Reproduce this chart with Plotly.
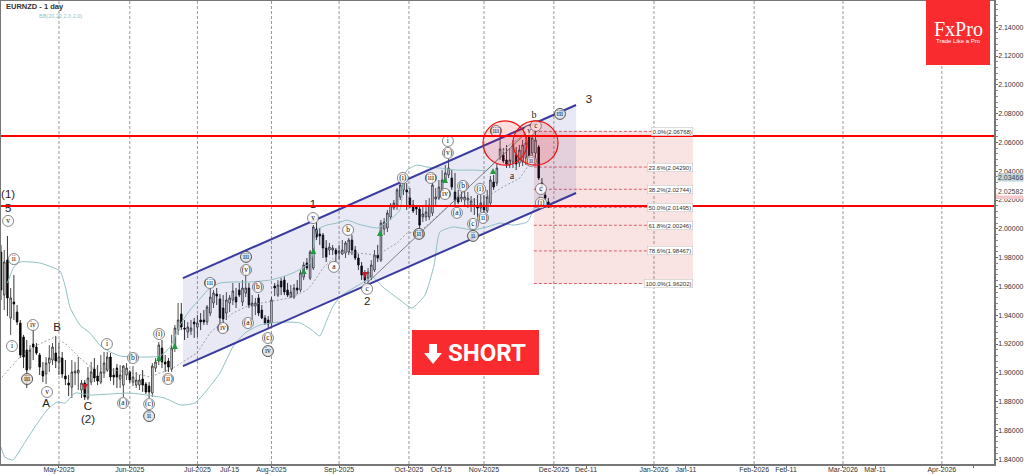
import plotly.graph_objects as go

opens = [1.9839,1.9540,1.9783,1.9381,1.9492,1.9422,1.9346,1.9249,1.9158,1.9033,
1.9200,1.9179,1.9124,1.9012,1.8992,1.9068,1.9089,1.9138,1.9075,1.9103,
1.8978,1.8929,1.8901,1.8999,1.8999,1.8881,1.8929,1.8825,1.8936,1.9026,
1.8978,1.8936,1.8999,1.9019,1.9110,1.8985,1.9033,1.8957,1.8915,1.8985,
1.9006,1.8936,1.8915,1.8915,1.8957,1.8922,1.8908,1.8860,1.9033,1.9082,
1.9172,1.9075,1.9082,1.9026,1.9179,1.9297,1.9408,1.9311,1.9283,1.9290,
1.9353,1.9318,1.9367,1.9367,1.9353,1.9415,1.9485,1.9547,1.9513,1.9450,
1.9415,1.9485,1.9506,1.9526,1.9575,1.9492,1.9554,1.9589,1.9464,1.9464,
1.9520,1.9436,1.9381,1.9367,1.9346,1.9603,1.9540,1.9637,1.9644,1.9575,
1.9526,1.9526,1.9589,1.9575,1.9665,1.9763,1.9658,1.9728,1.9999,1.9964,
1.9957,1.9867,1.9853,1.9853,1.9853,1.9832,1.9825,1.9832,1.9839,1.9922,
1.9853,1.9797,1.9742,1.9679,1.9658,1.9665,1.9714,1.9818,1.9783,1.9999,
2.0006,2.0082,2.0145,2.0165,2.0221,2.0270,2.0270,2.0214,2.0165,2.0151,
2.0138,2.0082,2.0082,2.0082,2.0110,2.0207,2.0214,2.0270,2.0339,2.0374,
2.0353,2.0256,2.0221,2.0207,2.0200,2.0200,2.0165,2.0165,2.0151,2.0145,
2.0165,2.0124,2.0179,2.0325,2.0318,2.0499,2.0513,2.0478,2.0443,2.0464,
2.0513,2.0457,2.0464,2.0492,2.0665,2.0526,2.0526,2.0568,2.0318,2.0235,2.0186]
highs = [1.9888,1.9853,1.9950,1.9589,1.9679,1.9471,1.9367,1.9263,1.9228,1.9193,
1.9332,1.9207,1.9138,1.9075,1.9110,1.9193,1.9207,1.9256,1.9207,1.9145,
1.9089,1.8985,1.9089,1.9075,1.9110,1.8950,1.8950,1.9040,1.9075,1.9103,
1.9054,1.9124,1.9145,1.9145,1.9138,1.9033,1.9061,1.9054,1.9054,1.9068,
1.9019,1.9047,1.9006,1.8985,1.9019,1.8936,1.8936,1.9068,1.9103,1.9214,
1.9228,1.9124,1.9103,1.9263,1.9332,1.9485,1.9485,1.9367,1.9353,1.9367,
1.9381,1.9401,1.9415,1.9436,1.9471,1.9589,1.9575,1.9589,1.9547,1.9540,
1.9561,1.9540,1.9624,1.9589,1.9624,1.9644,1.9714,1.9624,1.9540,1.9520,
1.9547,1.9471,1.9401,1.9394,1.9526,1.9624,1.9644,1.9658,1.9672,1.9624,
1.9610,1.9617,1.9644,1.9714,1.9770,1.9797,1.9853,2.0026,2.0047,2.0006,
1.9971,1.9922,1.9902,1.9888,1.9867,1.9888,1.9922,1.9915,1.9936,1.9957,
1.9881,1.9825,1.9770,1.9714,1.9728,1.9783,1.9853,1.9888,2.0061,2.0075,
2.0131,2.0179,2.0200,2.0283,2.0374,2.0353,2.0318,2.0283,2.0200,2.0165,
2.0165,2.0151,2.0200,2.0214,2.0388,2.0283,2.0339,2.0408,2.0443,2.0485,
2.0408,2.0388,2.0270,2.0256,2.0270,2.0256,2.0228,2.0214,2.0235,2.0235,
2.0235,2.0270,2.0367,2.0374,2.0457,2.0686,2.0561,2.0582,2.0561,2.0617,
2.0568,2.0582,2.0617,2.0686,2.0707,2.0721,2.0686,2.0582,2.0353,2.0270,2.0214]
lows = [1.9506,1.9436,1.9394,1.9263,1.9367,1.9332,1.9103,1.9033,1.8895,1.9019,
1.9089,1.9124,1.8985,1.8936,1.8922,1.9006,1.9054,1.9033,1.8985,1.8964,
1.8915,1.8839,1.8825,1.8915,1.8881,1.8825,1.8811,1.8811,1.8915,1.8936,
1.8915,1.8922,1.8964,1.9006,1.8943,1.8915,1.8895,1.8895,1.8832,1.8950,
1.8929,1.8908,1.8895,1.8881,1.8867,1.8853,1.8825,1.8832,1.9006,1.9054,
1.9033,1.9006,1.9006,1.9006,1.9145,1.9263,1.9297,1.9228,1.9242,1.9263,
1.9242,1.9249,1.9297,1.9332,1.9332,1.9394,1.9450,1.9471,1.9332,1.9346,
1.9367,1.9422,1.9471,1.9450,1.9526,1.9464,1.9526,1.9450,1.9367,1.9401,
1.9394,1.9374,1.9332,1.9311,1.9318,1.9533,1.9526,1.9540,1.9540,1.9526,
1.9520,1.9513,1.9547,1.9561,1.9644,1.9714,1.9644,1.9714,1.9922,1.9888,
1.9797,1.9770,1.9818,1.9818,1.9770,1.9783,1.9818,1.9797,1.9818,1.9818,
1.9783,1.9714,1.9644,1.9624,1.9624,1.9644,1.9700,1.9770,1.9770,1.9957,
1.9978,2.0061,2.0131,2.0131,2.0200,2.0235,2.0131,2.0145,2.0110,2.0096,
2.0006,2.0047,2.0054,2.0061,2.0089,2.0165,2.0200,2.0235,2.0318,2.0353,
2.0270,2.0165,2.0172,2.0186,2.0151,2.0145,2.0117,2.0096,2.0082,2.0117,
2.0117,2.0110,2.0158,2.0270,2.0297,2.0478,2.0457,2.0422,2.0422,2.0422,
2.0408,2.0429,2.0436,2.0443,2.0492,2.0506,2.0478,2.0339,2.0249,2.0200,2.0145]
closes = [1.9575,1.9770,1.9520,1.9520,1.9478,1.9353,1.9124,1.9110,1.9019,1.9158,
1.9179,1.9138,1.9040,1.8978,1.9068,1.9103,1.9179,1.9082,1.9110,1.8992,
1.8957,1.8915,1.9006,1.9012,1.9019,1.8929,1.8832,1.8964,1.9006,1.8964,
1.8943,1.9006,1.9068,1.9110,1.8971,1.8971,1.8971,1.8985,1.9047,1.9033,
1.8950,1.8971,1.8950,1.8950,1.8915,1.8867,1.8867,1.9047,1.9075,1.9193,
1.9075,1.9061,1.9040,1.9172,1.9311,1.9367,1.9318,1.9304,1.9318,1.9311,
1.9339,1.9346,1.9353,1.9353,1.9457,1.9526,1.9554,1.9533,1.9381,1.9374,
1.9506,1.9520,1.9568,1.9492,1.9540,1.9589,1.9589,1.9471,1.9485,1.9485,
1.9415,1.9381,1.9346,1.9339,1.9506,1.9589,1.9610,1.9596,1.9561,1.9540,
1.9561,1.9589,1.9575,1.9693,1.9749,1.9728,1.9839,2.0013,1.9943,1.9950,
1.9867,1.9804,1.9874,1.9867,1.9825,1.9846,1.9853,1.9902,1.9922,1.9853,
1.9797,1.9749,1.9679,1.9644,1.9700,1.9749,1.9818,1.9797,2.0040,2.0047,
2.0110,2.0165,2.0179,2.0270,2.0304,2.0339,2.0256,2.0165,2.0124,2.0138,
2.0026,2.0103,2.0117,2.0165,2.0304,2.0221,2.0290,2.0339,2.0388,2.0422,
2.0290,2.0200,2.0186,2.0221,2.0221,2.0214,2.0193,2.0158,2.0145,2.0179,
2.0131,2.0221,2.0339,2.0290,2.0422,2.0554,2.0471,2.0450,2.0478,2.0582,
2.0450,2.0547,2.0582,2.0596,2.0499,2.0631,2.0617,2.0353,2.0283,2.0214,2.0151]
bars = list(range(len(closes)))

upper_x = [2,4,6,12,18.3,20,21.4,24.5,27.6,30.7,33.9,37,41.6,46.3,49.4,52.5,55.6,58.7,60.9,64.9,68,72.7,77.3,83.5,88.2,91.3,96,96.9,98.1,99.7,101.2,104.3,107.5,110.9,114.6,117,119.9,123.9,125,126.1,129.2,132.3,136.3,141.6,146.6,150.9,154,157.1,160.2,163.4,164.9,167.4]
upper_y = [1.9624,1.9735,1.9770,1.9763,1.9707,1.9596,1.9457,1.9332,1.9277,1.9193,1.9145,1.9117,1.9110,1.9110,1.9117,1.9179,1.9332,1.9436,1.9492,1.9589,1.9624,1.9631,1.9631,1.9644,1.9672,1.9700,1.9763,1.9839,1.9992,2.0013,2.0026,2.0040,2.0061,2.0033,2.0013,2.0006,2.0047,2.0131,2.0339,2.0408,2.0443,2.0429,2.0422,2.0408,2.0408,2.0408,2.0478,2.0568,2.0617,2.0672,2.0707,2.0735]
lower_x = [0,1.2,3.7,6.5,9.9,14.3,17.4,19.9,23,27.6,33.9,40,45.3,50.9,55.6,60.2,64,68,72,75.8,80.4,86.6,92.9,96.6,99,101.2,103,105.3,108.4,113.7,115.5,118.6,123.9,127.6,131.7,134.5,136.3,140.4,146.6,150.9,155,159,163.4,165.8,167.4]
lower_y = [1.8485,1.8415,1.8395,1.8485,1.8603,1.8742,1.8797,1.8790,1.8860,1.8846,1.8853,1.8860,1.8846,1.8825,1.8777,1.8790,1.8881,1.8999,1.9179,1.9277,1.9332,1.9353,1.9346,1.9297,1.9256,1.9367,1.9457,1.9527,1.9575,1.9644,1.9665,1.9596,1.9506,1.9450,1.9540,1.9749,1.9978,2.0013,1.9992,2.0013,2.0040,2.0026,2.0047,2.0151,2.0235]
mid_x = [0.3,5.9,11.2,16.8,20.5,24.5,28.3,30.7,41,46.3,53.4,60.9,64.9,72,77.3,82.6,89.8,95,96.9,100,105.3,110.6,116.8,123,126.1,130,136.3,141.6,146.6,150.9,155.9,161.2,164.3]
mid_y = [1.8971,1.9110,1.9193,1.9249,1.9193,1.9103,1.9033,1.9033,1.8999,1.8971,1.9033,1.9138,1.9277,1.9415,1.9471,1.9492,1.9520,1.9575,1.9624,1.9728,1.9839,1.9832,1.9818,1.9901,1.9971,1.9978,2.0110,2.0214,2.0200,2.0221,2.0290,2.0353,2.0457]

channel_x = [56.5, 178.6]
channel_top = [1.9658, 2.0860]
channel_bottom = [1.9047, 2.0249]
trend_x = [113.7, 163.4]
trend_y = [1.9624, 2.0672]
resistance = [2.0645, 2.0158]

fib_pct = ["0.0%", "23.6%", "38.2%", "50.0%", "61.8%", "78.6%", "100.0%"]
fib_val = [2.06768, 2.04290, 2.02744, 2.01495, 2.00246, 1.98467, 1.96202]
fib_x = [165.5, 214.9]

month_ticks = [18, 40, 61, 84, 105, 126.7, 150, 171.7, 202.8, 233.9, 261.5, 292.2]
tick_vals = [18, 40, 61, 71, 84, 105, 126.7, 136.7, 150, 171.7, 181.7, 202.8, 212.7, 233.9, 243.8, 261.5, 271.5, 292.2, 302]
tick_text = ["May-2025", "Jun-2025", "Jul-2025", "Jul-15", "Aug-2025", "Sep-2025", "Oct-2025", "Oct-15", "Nov-2025",
             "Dec-2025", "Dec-11", "Jan-2026", "Jan-11", "Feb-2026", "Feb-11", "Mar-2026", "Mar-11", "Apr-2026", ""]
price_ticks = [1.84, 1.86, 1.88, 1.90, 1.92, 1.94, 1.96, 1.98, 2.00, 2.02, 2.04, 2.06, 2.08, 2.10, 2.12, 2.14]

wave_text = ["v","i","ii","iv","v","i","(b)","(a)","(c)","(i)","(ii)","(iii)","(iv)","(v)","(b)","(a)","(c)","v","a","b","c",
             "(i)","(iii)","(iv)","(b)","(a)","(i)","(c)","(ii)","i","(v)","(iii)","v","c","(ii)","c","(i)"]
wave_x = [2.2,3.4,4,9.9,14.3,32.9,41,37.9,46,49.1,51.9,64.9,68.9,76.1,79.8,76.7,82.9,96.9,103.4,107.8,113.7,
          124.8,133.5,137.9,143.5,141.6,148.8,146.6,149.7,138.8,138.8,153.7,164,166.1,164.6,167.7,167.7]
wave_y = [2.0055,1.9186,1.9790,1.9332,1.8867,1.9200,1.9103,1.8790,1.8783,1.9270,1.8957,1.9624,1.9311,1.9714,1.9596,1.9346,1.9242,2.0075,1.9736,1.9992,1.9583,
          2.0353,2.0353,2.0242,2.0298,2.0111,2.0277,2.0034,2.0076,2.0610,2.0527,2.0680,2.0680,2.0715,2.0472,2.0277,2.0180]
minor_text = ["iii","ii","iii","iv","(ii)","ii","iii"]
minor_x = [8.1,46,76.1,82.9,129.8,146.6,173.6]
minor_y = [1.8957,1.8700,1.9805,1.9151,1.9965,1.9951,2.0798]

big_text = ["(1)","5","1","2","B","A","C","(2)","3"]
big_x = [2.2,2.2,96.9,113.7,17.4,14,27,27,182.6]
big_y = [2.0231,2.0139,2.0166,1.9493,1.9313,1.8785,1.8764,1.8674,2.0895]
serif_text = ["a","b"]
serif_x = [158.7,165.5]
serif_y = [2.0360,2.0784]

buy_x = [49.1,54,94,97,117.7,137.9,152.8]
buy_y = [1.9124,1.9207,1.9728,1.9867,1.9992,2.0360,2.0422]
sell_x = [26.1,113]
sell_y = [1.8881,1.9658]

last_prices = ["2.03466", "2.02582"]
last_y = [2.0353, 2.0256]

X0, X1 = 0, 308.4
Y0, Y1 = 1.8367, 2.1582
L, T, R, B = 1, 1, 994, 464
def fx(px):
    return (px - L) / (R - L)
def fy(py):
    return 1 - (py - T) / (B - T)

fig = go.Figure()

fig.add_trace(go.Scatter(
    x=channel_x + channel_x[::-1], y=channel_top + channel_bottom[::-1],
    fill="toself", fillcolor="rgba(70,70,170,0.12)", line=dict(width=0),
    mode="lines", hoverinfo="skip", showlegend=False))
fig.add_trace(go.Scatter(x=upper_x, y=upper_y, mode="lines", showlegend=False,
    line=dict(color="#8fc0c4", width=1, shape="spline", smoothing=0.5)))
fig.add_trace(go.Scatter(x=lower_x, y=lower_y, mode="lines", showlegend=False,
    line=dict(color="#8fc0c4", width=1, shape="spline", smoothing=0.5)))
fig.add_trace(go.Scatter(x=mid_x, y=mid_y, mode="lines", showlegend=False,
    line=dict(color="#8a8a8a", width=0.8, dash="2px,2px")))
fig.add_trace(go.Scatter(x=trend_x, y=trend_y, mode="lines", showlegend=False,
    line=dict(color="#666666", width=0.8)))

fig.add_trace(go.Candlestick(
    x=bars, open=opens, high=highs, low=lows, close=closes, whiskerwidth=0,
    increasing=dict(line=dict(color="#222222", width=0.8), fillcolor="#ffffff"),
    decreasing=dict(line=dict(color="#000000", width=0.8), fillcolor="#000000"),
    showlegend=False))

for top_line in (channel_top, channel_bottom):
    fig.add_trace(go.Scatter(x=channel_x, y=top_line, mode="lines", showlegend=False,
        line=dict(color="#3a3aa0", width=2)))

fig.add_trace(go.Scatter(x=buy_x, y=buy_y, mode="markers", showlegend=False,
    marker=dict(symbol="arrow-up", size=6, color="#1f9a3c", line=dict(width=0))))
fig.add_trace(go.Scatter(x=sell_x, y=sell_y, mode="markers", showlegend=False,
    marker=dict(symbol="arrow-down", size=6, color="#c0202a", line=dict(width=0))))

fig.add_trace(go.Scatter(x=wave_x, y=wave_y, text=wave_text, mode="markers+text", textposition="middle center",
    showlegend=False, textfont=dict(family="Liberation Serif", size=7.5, color="#111111"),
    marker=dict(symbol="circle", size=11, color="rgba(255,255,255,0.85)", line=dict(color="#555555", width=0.7))))
fig.add_trace(go.Scatter(x=minor_x, y=minor_y, text=minor_text, mode="markers+text", textposition="middle center",
    showlegend=False, textfont=dict(family="Liberation Serif", size=7.5, color="#111111"),
    marker=dict(symbol="circle", size=11, color="rgba(225,225,225,0.85)", line=dict(color="#555555", width=1))))
fig.add_trace(go.Scatter(x=big_x, y=big_y, text=big_text, mode="text", textposition="middle center",
    showlegend=False, textfont=dict(family="Liberation Sans", size=11.5, color="#222222")))
fig.add_trace(go.Scatter(x=serif_x, y=serif_y, text=serif_text, mode="text", textposition="middle center",
    showlegend=False, textfont=dict(family="Liberation Serif", size=10, color="#222222")))

shapes = []
for v in month_ticks:
    shapes.append(dict(type="line", layer="below", x0=v, x1=v, yref="paper", y0=0, y1=1,
                       line=dict(color="#999999", width=1, dash="3px,2px")))
shapes.append(dict(type="rect", layer="below", x0=fib_x[0], x1=fib_x[1], y0=fib_val[0], y1=fib_val[-1],
                   fillcolor="rgba(215,70,70,0.15)", line=dict(width=0)))
for v in fib_val:
    shapes.append(dict(type="line", layer="below", x0=fib_x[0], x1=fib_x[1], y0=v, y1=v,
                       line=dict(color="#d9606a", width=1, dash="3px,2px")))
for v in resistance:
    shapes.append(dict(type="line", x0=X0, x1=X1, y0=v, y1=v, line=dict(color="#ff0000", width=2)))
for a, b in ((149.7, 163.4), (159, 173)):
    shapes.append(dict(type="circle", x0=a, x1=b, y0=2.0443, y1=2.0749,
                       fillcolor="rgba(255,0,0,0.13)", line=dict(color="#f01010", width=1.2)))
shapes.append(dict(type="rect", xref="paper", yref="paper", x0=fx(926), x1=fx(990), y0=fy(65), y1=fy(0),
                   fillcolor="#f92b2e", line=dict(width=0)))
shapes.append(dict(type="rect", xref="paper", yref="paper", x0=fx(412), x1=fx(539), y0=fy(375), y1=fy(330),
                   fillcolor="#f92b2e", line=dict(width=0)))
shapes.append(dict(type="rect", xref="paper", yref="paper", x0=fx(996), x1=fx(1023), y0=fy(199), y1=fy(194),
                   fillcolor="#f2c6cb", line=dict(width=0)))
def P(px, py):
    return f"{fx(px)},{fy(py)}"
arrow = ("M " + P(429, 344) + " L " + P(437, 344) + " L " + P(437, 353) + " L " + P(442, 353) + " L "
         + P(433, 364) + " L " + P(424, 353) + " L " + P(429, 353) + " Z")
shapes.append(dict(type="path", xref="paper", yref="paper", path=arrow, fillcolor="white", line=dict(width=0)))

ann = []
def note(px, py, text, size, color, family="Liberation Sans", **kw):
    ann.append(dict(xref="paper", yref="paper", x=fx(px), y=fy(py), text=text, showarrow=False,
                    font=dict(family=family, size=size, color=color), **kw))
note(4, 7, "<b>EURNZD - 1 day</b>", 7.5, "#333333", xanchor="left", yanchor="middle")
note(37, 16, "BB(20,20,2.0,2.0)", 5.5, "#8fc0c4", xanchor="left", yanchor="middle")
note(958, 29, "FxPro", 20, "white", family="Liberation Serif", xanchor="center", yanchor="middle")
note(958, 41, "Trade Like a Pro", 6, "white", xanchor="center", yanchor="middle")
note(486.5, 352.5, "<b>SHORT</b>", 24, "white", family="Roboto", xanchor="center", yanchor="middle")
for pct, val in zip(fib_pct, fib_val):
    ann.append(dict(x=fib_x[1], y=val, text=f"{pct}({val:.5f})", showarrow=False, xanchor="right", yanchor="middle",
                    font=dict(family="Liberation Sans", size=6, color="#333333"),
                    bgcolor="white", bordercolor="#bbbbbb", borderwidth=0.5, borderpad=1))
for txt, val, bg in zip(last_prices, last_y, ("#bcd6dc", "#ffffff")):
    ann.append(dict(xref="paper", x=1.003, y=val, text=txt, showarrow=False, xanchor="left", yanchor="middle",
                    font=dict(family="Liberation Sans", size=7, color="#444444"),
                    bgcolor=bg, borderpad=0))

fig.update_layout(
    width=1024, height=474, margin=dict(l=L, r=1024 - R, t=T, b=474 - B, autoexpand=False),
    plot_bgcolor="white", paper_bgcolor="white", showlegend=False,
    shapes=shapes, annotations=ann, dragmode=False,
    xaxis=dict(range=[X0, X1], rangeslider=dict(visible=False), showgrid=False, zeroline=False, automargin=False,
               tickmode="array", tickvals=tick_vals, ticktext=tick_text, ticks="outside", ticklen=2,
               ticklabelstandoff=-4,
               tickcolor="#666666", tickfont=dict(family="Liberation Sans", size=7, color="#333333"),
               showline=True, linecolor="#777777", linewidth=2, mirror=True, tickangle=0),
    yaxis=dict(range=[Y0, Y1], side="right", showgrid=False, zeroline=False, automargin=False,
               tickmode="array", tickvals=price_ticks, ticktext=[f"{v:.5f}" for v in price_ticks],
               ticks="outside", ticklen=2, tickcolor="#666666", ticklabelstandoff=-1,
               tickfont=dict(family="Liberation Sans", size=7, color="#333333"),
               showline=True, linecolor="#777777", linewidth=1.5, mirror=True,
               minor=dict(tickmode="linear", dtick=0.004, ticks="outside", ticklen=2, tickcolor="#888888")),
)
fig.write_html("out.html", config=dict(displayModeBar=False), post_script="document.body.style.margin='0';")
